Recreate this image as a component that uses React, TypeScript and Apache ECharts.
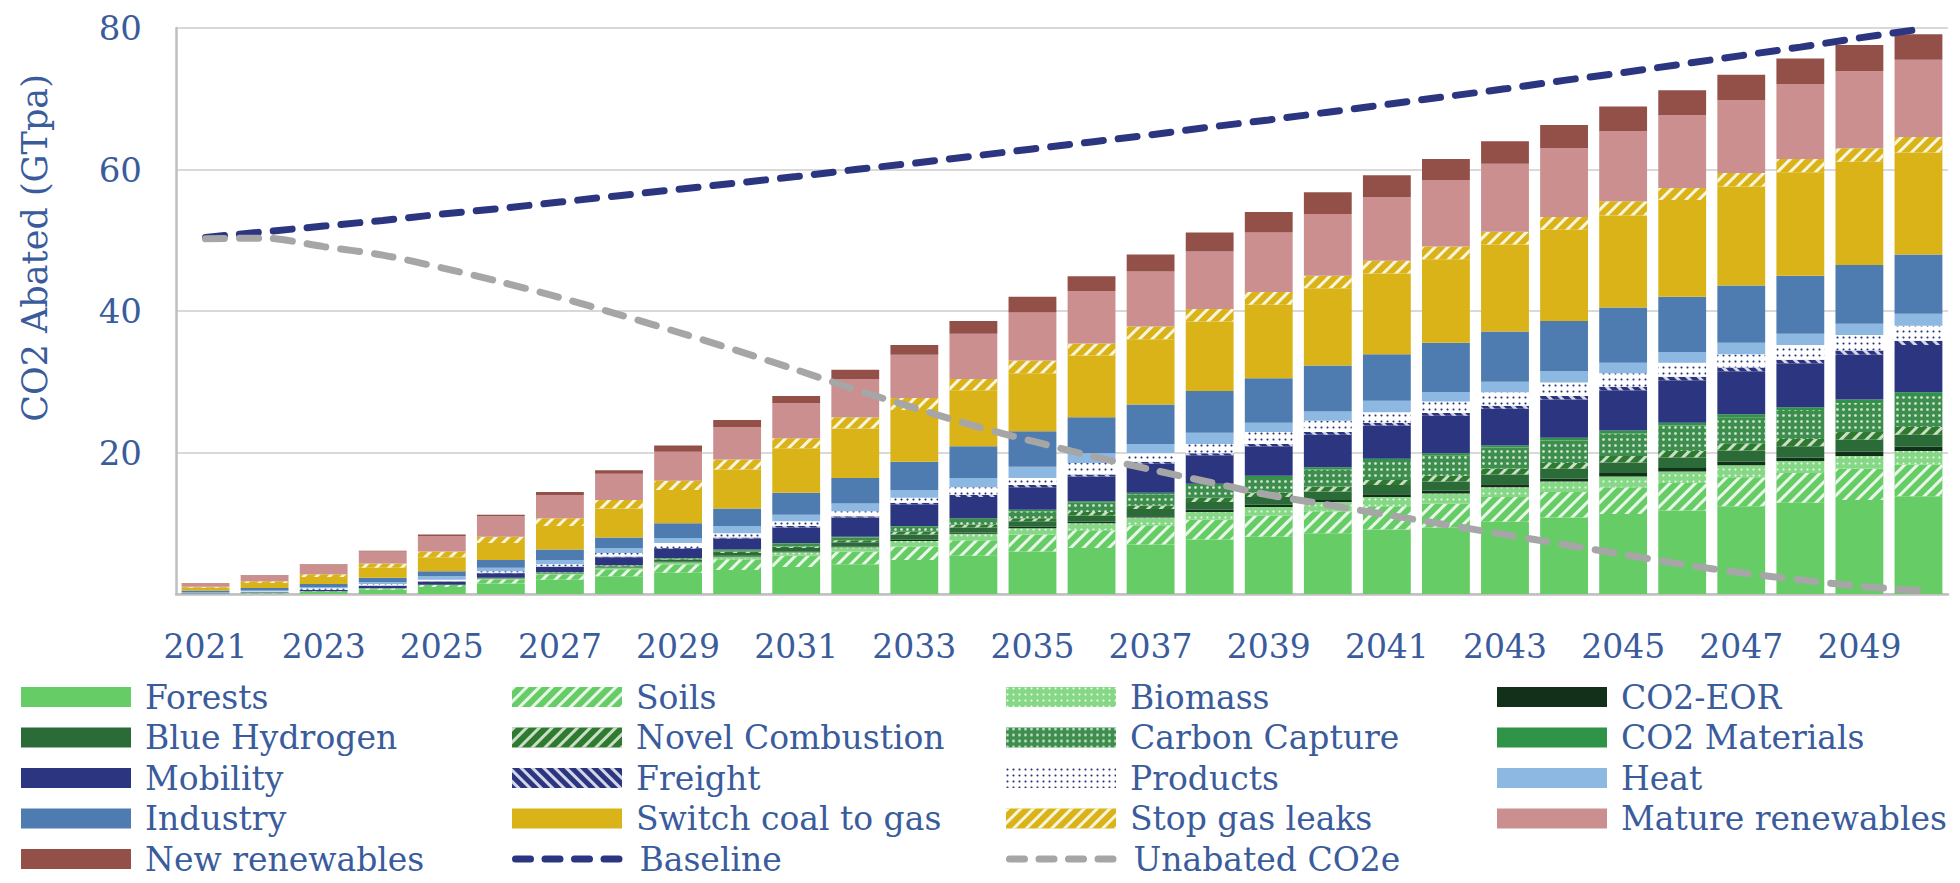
import React, { useEffect, useRef } from "react";
import * as echarts from "echarts";

const years = ["2021","2022","2023","2024","2025","2026","2027","2028","2029","2030","2031","2032","2033","2034","2035","2036","2037","2038","2039","2040","2041","2042","2043","2044","2045","2046","2047","2048","2049","2050"];

const forests = [0.05,0.1,0.3,0.6,1.0,1.5,2.0,2.5,3.0,3.4,3.8,4.2,4.8,5.4,6.0,6.5,7.0,7.7,8.1,8.6,9.1,9.4,10.2,10.8,11.3,11.8,12.4,12.9,13.3,13.8];
const soils = [0,0.05,0.1,0.2,0.3,0.6,0.8,1.0,1.2,1.5,1.6,1.8,1.9,2.2,2.4,2.5,2.7,2.8,3.0,3.1,3.3,3.4,3.5,3.6,3.8,3.9,4.1,4.2,4.4,4.5];
const biomass = [0,0,0,0,0,0.1,0.1,0.2,0.3,0.4,0.5,0.6,0.8,0.9,0.9,1.0,1.1,1.1,1.2,1.3,1.3,1.4,1.4,1.5,1.5,1.6,1.7,1.7,1.8,1.9];
const co2Eor = [0,0,0,0,0,0.02,0.03,0.05,0.05,0.1,0.1,0.1,0.2,0.2,0.2,0.2,0.2,0.3,0.3,0.3,0.4,0.4,0.4,0.4,0.5,0.5,0.5,0.5,0.6,0.6];
const blueHydrogen = [0,0,0,0,0,0.05,0.1,0.15,0.25,0.4,0.5,0.6,0.7,0.7,0.8,0.9,1.0,1.1,1.1,1.2,1.3,1.3,1.4,1.4,1.5,1.5,1.6,1.6,1.7,1.7];
const novelCombustion = [0,0,0,0,0,0.01,0.02,0.05,0.1,0.2,0.2,0.3,0.4,0.4,0.4,0.5,0.5,0.6,0.6,0.7,0.7,0.8,0.8,0.8,0.9,0.9,1.0,1.0,1.1,1.1];
const carbonCapture = [0,0,0,0,0,0.02,0.05,0.1,0.15,0.2,0.4,0.4,0.7,0.8,1.0,1.3,1.6,1.8,2.1,2.4,2.7,2.9,3.0,3.2,3.2,3.6,3.7,4.1,4.1,4.4];
const co2Materials = [0,0,0,0,0,0,0,0.05,0.05,0.1,0.1,0.1,0.1,0.1,0.2,0.2,0.2,0.2,0.3,0.3,0.3,0.3,0.3,0.4,0.4,0.4,0.4,0.4,0.5,0.5];
const mobility = [0.05,0.1,0.2,0.35,0.45,0.65,0.75,1.1,1.3,1.55,2.2,2.7,3.1,3.0,3.2,3.5,4.1,4.0,4.2,4.6,4.7,5.3,5.2,5.4,5.7,6.0,6.1,6.2,6.3,6.7];
const freight = [0,0,0,0.05,0.05,0.05,0.05,0.1,0.1,0.15,0.2,0.2,0.2,0.3,0.3,0.3,0.3,0.3,0.3,0.4,0.4,0.4,0.4,0.5,0.5,0.5,0.5,0.5,0.6,0.6];
const products = [0.03,0.1,0.2,0.2,0.2,0.2,0.3,0.5,0.7,0.6,0.7,0.7,0.7,1.1,1.0,1.6,1.2,1.3,1.7,1.6,1.5,1.6,1.9,1.9,1.9,2.0,1.9,2.1,2.2,2.1];
const heat = [0.1,0.15,0.2,0.3,0.5,0.5,0.6,0.7,0.7,1.0,0.9,1.1,1.1,1.3,1.6,1.4,1.3,1.6,1.3,1.3,1.6,1.3,1.5,1.6,1.5,1.5,1.6,1.6,1.6,1.7];
const industry = [0.25,0.35,0.4,0.6,0.7,1.1,1.5,1.5,2.1,2.5,3.1,3.6,4.0,4.5,5.0,5.1,5.6,5.9,6.3,6.5,6.6,7.0,7.1,7.1,7.8,7.8,8.1,8.2,8.3,8.4];
const switchCoalToGas = [0.4,0.7,1.0,1.4,2.0,2.4,3.3,4.1,4.7,5.5,6.3,7.0,7.3,7.9,8.2,8.7,9.2,9.8,10.4,10.9,11.4,11.8,12.3,12.9,13.0,13.7,14.0,14.6,14.6,14.4];
const stopGasLeaks = [0.15,0.25,0.4,0.6,0.8,0.9,1.1,1.2,1.3,1.4,1.4,1.6,1.7,1.6,1.8,1.7,1.8,1.8,1.8,1.8,1.8,1.8,1.8,1.8,2.0,1.7,1.9,1.9,1.9,2.2];
const matureRenewables = [0.5,0.85,1.35,1.7,2.2,2.9,3.3,3.7,4.1,4.6,5.0,5.4,6.1,6.4,6.8,7.4,7.8,8.1,8.4,8.7,9.0,9.4,9.6,9.7,9.9,10.3,10.3,10.6,10.9,10.9];
const newRenewables = [0.02,0.05,0.05,0.1,0.2,0.2,0.4,0.5,0.9,1.0,1.0,1.3,1.4,1.8,2.2,2.1,2.4,2.7,2.9,3.1,3.1,3.0,3.2,3.3,3.5,3.5,3.6,3.6,3.7,3.6];

const baseline = [50.4,51.2,52.0,52.8,53.7,54.5,55.4,56.3,57.2,58.1,59.0,60.0,60.9,61.9,62.9,63.9,64.9,66.0,67.0,68.1,69.2,70.3,71.4,72.6,73.7,74.9,76.1,77.3,78.6,79.8];
const unabated = [50.2,50.3,49.1,47.9,46.1,44.1,41.9,39.5,37.0,34.4,31.7,28.9,26.3,23.8,21.6,19.5,17.6,15.8,14.0,12.6,11.2,9.8,8.4,7.0,5.6,4.2,3.0,2.0,1.1,0.5];

const yTicks = [0, 20, 40, 60, 80];

// legend grid: rows of names (reading order of the reference)
const legendRows = [
  ["Forests", "Soils", "Biomass", "CO2-EOR"],
  ["Blue Hydrogen", "Novel Combustion", "Carbon Capture", "CO2 Materials"],
  ["Mobility", "Freight", "Products", "Heat"],
  ["Industry", "Switch coal to gas", "Stop gas leaks", "Mature renewables"],
  ["New renewables", "Baseline", "Unabated CO2e"],
];

const TEXT = "#3A5C9C";
const FONT = "DejaVu Serif";

// "/" stripes
const slash = (c: string) => ({ symbol: "rect", symbolSize: 1, color: c, dashArrayX: [1, 0], dashArrayY: [3, 6], rotation: -Math.PI / 4 });
// "\" stripes
const backslash = (c: string) => ({ symbol: "rect", symbolSize: 1, color: c, dashArrayX: [1, 0], dashArrayY: [3, 5], rotation: Math.PI / 4 });
const dots = (c: string, size = 0.8, gap = 3) => ({ symbol: "circle", symbolSize: size, color: c, dashArrayX: [gap, gap], dashArrayY: [gap, gap] });

type BarDef = { name: string; data: number[]; color: string; decal?: any };

const bars: BarDef[] = [
  { name: "Forests", data: forests, color: "#66CC66" },
  { name: "Soils", data: soils, color: "#66CC66", decal: slash("rgba(255,255,255,0.85)") },
  { name: "Biomass", data: biomass, color: "#86D886", decal: dots("rgba(255,255,255,0.85)", 0.7, 3) },
  { name: "CO2-EOR", data: co2Eor, color: "#12301A" },
  { name: "Blue Hydrogen", data: blueHydrogen, color: "#2A6B38" },
  { name: "Novel Combustion", data: novelCombustion, color: "#2E7A2E", decal: slash("rgba(255,255,255,0.75)") },
  { name: "Carbon Capture", data: carbonCapture, color: "#3E8E4E", decal: dots("rgba(255,255,255,0.8)", 0.9, 3) },
  { name: "CO2 Materials", data: co2Materials, color: "#2F9447" },
  { name: "Mobility", data: mobility, color: "#2C3680" },
  { name: "Freight", data: freight, color: "#2C3680", decal: backslash("rgba(255,255,255,0.8)") },
  { name: "Products", data: products, color: "#FFFFFF", decal: dots("#2C3680", 0.7, 3) },
  { name: "Heat", data: heat, color: "#8DB8E2" },
  { name: "Industry", data: industry, color: "#4F7CB0" },
  { name: "Switch coal to gas", data: switchCoalToGas, color: "#D9B318" },
  { name: "Stop gas leaks", data: stopGasLeaks, color: "#D9B318", decal: slash("rgba(255,255,255,0.85)") },
  { name: "Mature renewables", data: matureRenewables, color: "#CC8F8F" },
  { name: "New renewables", data: newRenewables, color: "#935048" },
];

const legendLefts = [21, 512, 1006, 1497];
const legendRowCenters = [697, 737.5, 778, 818.5, 859];
const lineColors: Record<string, string> = { "Baseline": "#2C3680", "Unabated CO2e": "#A6A6A6" };

export default function App() {
  const ref = useRef<HTMLDivElement>(null);
  useEffect(() => {
    document.body.style.margin = "0";
    if (!ref.current) return;
    const chart = echarts.init(ref.current, undefined, { renderer: "svg" });
    const legends: any[] = [];
    legendRows.forEach((row, r) => {
      row.forEach((n, c) => {
        legends.push({
          orient: "horizontal",
          left: legendLefts[c],
          top: legendRowCenters[r] - 16.5,
          padding: 0,
          itemWidth: 110,
          itemHeight: 20,
          selectedMode: false,
          textStyle: { fontSize: 33, fontFamily: FONT, color: TEXT, padding: [0, 0, 0, 9] },
          data: [
            lineColors[n]
              ? { name: n, itemStyle: { opacity: 0 }, lineStyle: { color: lineColors[n], width: 7, type: [15, 14.5], cap: "round" } }
              : { name: n, icon: "rect" },
          ],
        });
      });
    });
    const option: any = {
      animation: false,
      backgroundColor: "#FFFFFF",
      grid: { left: 176, right: 12, top: 28, bottom: 289, containLabel: false },
      xAxis: {
        type: "category",
        data: years,
        axisTick: { show: false },
        axisLine: { lineStyle: { color: "#BFBFBF", width: 2.5 } },
        axisLabel: { interval: 1, margin: 36, fontSize: 33, fontFamily: FONT, color: TEXT },
      },
      yAxis: {
        type: "value",
        min: yTicks[0],
        max: yTicks[yTicks.length - 1],
        interval: 20,
        axisLine: { show: true, lineStyle: { color: "#BFBFBF", width: 2.5 } },
        axisTick: { show: false },
        splitLine: { lineStyle: { color: "#D9D9D9", width: 2 } },
        axisLabel: { showMinLabel: false, margin: 34, fontSize: 34, fontFamily: FONT, color: TEXT },
      },
      graphic: [
        {
          type: "text",
          x: 35,
          y: 248,
          rotation: Math.PI / 2,
          style: { text: "CO2 Abated (GTpa)", font: `35px "${FONT}"`, fill: TEXT, align: "center", verticalAlign: "middle" },
        },
      ],
      legend: legends,
      series: [
        ...bars.map((b) => ({
          name: b.name,
          type: "bar",
          stack: "total",
          data: b.data,
          barCategoryGap: "19%",
          itemStyle: { color: b.color, ...(b.decal ? { decal: b.decal } : {}) },
        })),
        {
          name: "Baseline",
          type: "line",
          data: baseline,
          symbol: "none",
          lineStyle: { color: "#2C3680", width: 7, type: [19, 15], cap: "round" },
          itemStyle: { color: "#2C3680" },
          z: 5,
        },
        {
          name: "Unabated CO2e",
          type: "line",
          data: unabated,
          symbol: "none",
          smooth: 0.3,
          lineStyle: { color: "#A6A6A6", width: 7, type: [19, 15], cap: "round" },
          itemStyle: { color: "#A6A6A6" },
          z: 5,
        },
      ],
    };
    chart.setOption(option);
    return () => chart.dispose();
  }, []);
  return <div ref={ref} style={{ width: 1960, height: 883 }} />;
}
